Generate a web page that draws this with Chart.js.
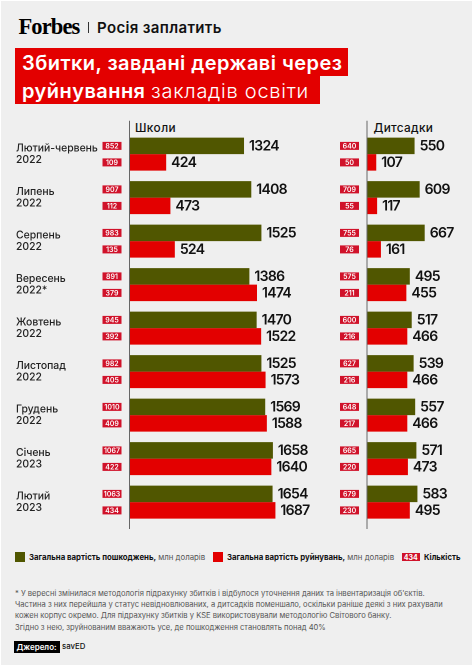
<!DOCTYPE html>
<html lang="uk"><head><meta charset="utf-8">
<script src="https://cdn.jsdelivr.net/npm/chart.js@4"></script>
<style>
html,body{margin:0;padding:0;background:#fff}
#page{position:absolute;left:1px;top:1px;width:471px;height:664px;background:#efefef;overflow:hidden}
#wrap{position:absolute;left:0;top:0;width:474px;height:667px;overflow:hidden;font-family:Inter,sans-serif;color:#111}
.t{position:absolute;white-space:nowrap;line-height:1}
.box{position:absolute;background:#e30000}
canvas{position:absolute}
</style></head><body>
<div id="page"></div>
<div id="wrap">
<div class="t" style="left:18.5px;top:14px;font:700 22.5px 'Liberation Serif',serif;letter-spacing:-.9px;color:#000">Forbes</div>
<div class="box" style="left:87.5px;top:22px;width:1px;height:11px;background:#333"></div>
<div class="t" style="left:97px;top:19.5px;font-size:15px;font-weight:600;letter-spacing:.35px">Росія заплатить</div>
<div class="box" style="left:15px;top:48px;width:333px;height:28px"></div>
<div class="box" style="left:15px;top:76px;width:304.5px;height:27.5px"></div>
<div class="t" style="left:22px;top:53px;font-size:20px;font-weight:600;color:#fff;letter-spacing:.45px">Збитки, завдані державі через</div>
<div class="t" style="left:22px;top:80.5px;font-size:20px;font-weight:600;color:#fff;letter-spacing:.45px">руйнування <span style="font-weight:300;letter-spacing:.75px">закладів освіти</span></div>
<div class="t" style="left:135px;top:122.5px;font-size:11.8px;font-weight:500;letter-spacing:.45px">Школи</div>
<div class="t" style="left:373.5px;top:122.5px;font-size:11.8px;font-weight:500;letter-spacing:.3px">Дитсадки</div>
<canvas id="schools" style="left:0;top:120px"></canvas>
<canvas id="kinder" style="left:330px;top:120px"></canvas>
<div class="box" style="left:15px;top:552px;width:9.5px;height:10px;background:#505600"></div>
<div class="t" style="left:29px;top:553.5px;font-size:7.8px"><b style="font-weight:700">Загальна вартість пошкоджень,</b> <span style="color:#555">млн доларів</span></div>
<div class="box" style="left:213px;top:552px;width:9.5px;height:10px"></div>
<div class="t" style="left:227px;top:553.5px;font-size:7.8px"><b style="font-weight:700">Загальна вартість руйнувань,</b> <span style="color:#555">млн доларів</span></div>
<div class="box" style="left:402px;top:553px;width:17.5px;height:8px;background:#d0122a"></div>
<div class="t" style="left:402px;top:553.5px;width:17.5px;text-align:center;font-size:7px;font-weight:700;color:#fff">434</div>
<div class="t" style="left:424px;top:553.5px;font-size:7.7px;font-weight:700">Кількість</div>
<div class="t" style="left:15px;top:588px;font-size:7.58px;color:#555;line-height:11.2px">* У вересні змінилася методологія підрахунку збитків і відбулося уточнення даних та інвентаризація об'єктів.<br>Частина з них перейшла у статус невідновлюваних, а дитсадків поменшало, оскільки раніше деякі з них рахували<br>кожен корпус окремо. Для підрахунку збитків у KSE використовували методологію Світового банку.<br>Згідно з нею, зруйнованим вважають усе, де пошкодження становлять понад 40%</div>
<div class="box" style="left:14px;top:641px;width:45.5px;height:12px;background:#000"></div>
<div class="t" style="left:16.5px;top:643px;font-size:8px;font-weight:600;color:#fff">Джерело:</div>
<div class="t" style="left:62px;top:643px;font-size:7.8px;font-weight:500">savED</div>
</div>
<script>
const periods = [['Лютий-червень','2022'],['Липень','2022'],['Серпень','2022'],['Вересень','2022*'],['Жовтень','2022'],['Листопад','2022'],['Грудень','2022'],['Січень','2023'],['Лютий','2023']];
const schoolDamage = [1324,1408,1525,1386,1470,1525,1569,1658,1654];
const schoolDestroyed = [424,473,524,1474,1522,1573,1588,1640,1687];
const schoolDamageCount = ['852','907','983','891','945','982','1010','1067','1063'];
const schoolDestroyedCount = ['109','112','135','379','392','405','409','422','434'];
const kinderDamage = [550,609,667,495,517,539,557,571,583];
const kinderDestroyed = [107,117,161,455,466,466,466,473,495];
const kinderDamageCount = ['640','709','755','575','600','627','648','665','679'];
const kinderDestroyedCount = ['50','55','76','211','216','216','217','220','230'];

const OLIVE='#505600', RED='#e30000', BADGE='#d0122a';

const marks = {
  id:'marks',
  afterDatasetsDraw(chart,args,opts){
    const {ctx} = chart, x0 = chart.scales.x.getPixelForValue(0);
    ctx.save();
    ctx.strokeStyle='#666'; ctx.lineWidth=1;
    ctx.beginPath(); ctx.moveTo(x0,0.7); ctx.lineTo(x0,409); ctx.stroke();
    chart.data.datasets.forEach((ds,di)=>{
      chart.getDatasetMeta(di).data.forEach((bar,i)=>{
        ctx.fillStyle='#111'; ctx.font='600 14px Inter, sans-serif';
        ctx.letterSpacing='-0.7px';
        ctx.textAlign='left'; ctx.textBaseline='middle';
        ctx.fillText(String(ds.data[i]), bar.x+5, bar.y+0.5);
        ctx.letterSpacing='0px';
        ctx.fillStyle=BADGE;
        ctx.fillRect(x0-27, bar.y-4, 19, 8);
        ctx.fillStyle='#fff'; ctx.font='600 7px Inter, sans-serif';
        ctx.textAlign='center';
        ctx.fillText(ds.counts[i], x0-17.5, bar.y+0.4);
      });
    });
    ctx.restore();
  }
};

function draw(id,w,axisW,padLeft,max,padRight,showTicks,dmg,des,dmgC,desC){
  const c=document.getElementById(id); c.style.width=w+'px'; c.style.height='410px';
  new Chart(c,{
    type:'bar',
    plugins:[marks],
    data:{labels:periods,datasets:[
      {data:dmg,counts:dmgC,backgroundColor:OLIVE},
      {data:des,counts:desC,backgroundColor:RED}
    ]},
    options:{
      indexAxis:'y',responsive:false,animation:false,devicePixelRatio:2,
      layout:{padding:{left:padLeft,right:padRight,top:12.4,bottom:6.1}},
      categoryPercentage:0.759,barPercentage:1,
      plugins:{legend:{display:false},tooltip:{enabled:false}},
      scales:{
        x:{display:false,min:0,max:max},
        y:{
          afterFit(s){s.width=axisW;s.paddingTop=0;s.paddingBottom=0;},
          grid:{display:false},border:{display:false},
          ticks:{display:showTicks,crossAlign:'far',autoSkip:false,padding:0,color:'#222',
            font:{family:'Inter, sans-serif',size:10.4,weight:500,lineHeight:1.13}}
        }
      }
    }
  });
}
function size(id,w){const c=document.getElementById(id);c.width=w;c.height=410;}
size('schools',330);size('kinder',144);
draw('schools',330,113.5,16,2000,27.5,true,schoolDamage,schoolDestroyed,schoolDamageCount,schoolDestroyedCount);
draw('kinder',144,37,0,1237,0,false,kinderDamage,kinderDestroyed,kinderDamageCount,kinderDestroyedCount);
</script>
</body></html>
